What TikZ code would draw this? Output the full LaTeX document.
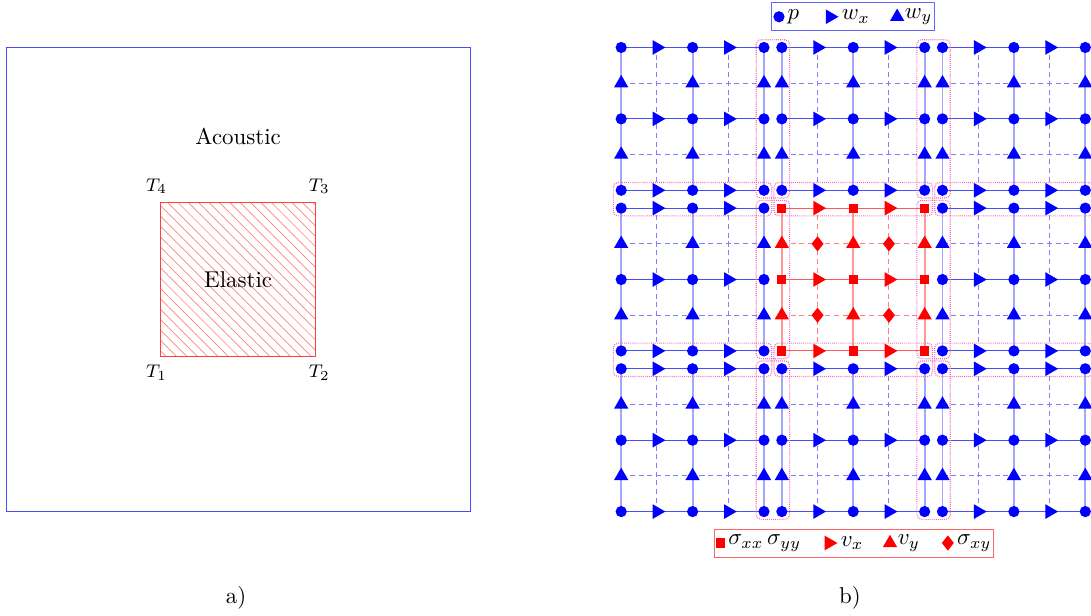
\documentclass[tikz,border=0pt]{standalone}
\usetikzlibrary{positioning,fit,backgrounds,shapes.geometric,patterns.meta}

\begin{document}
\begin{tikzpicture}[x=0.548cm,y=0.548cm,
  pn/.style={circle,fill=blue,inner sep=0pt,minimum size=4.9pt},
  wxn/.style={regular polygon,regular polygon sides=3,shape border rotate=-90,fill=blue,inner sep=0pt,minimum size=7.4pt},
  wyn/.style={regular polygon,regular polygon sides=3,fill=blue,inner sep=0pt,minimum size=7.2pt},
  sn/.style={rectangle,fill=red,inner sep=0pt,minimum size=4pt},
  vxn/.style={wxn,fill=red},
  vyn/.style={wyn,fill=red},
  sxyn/.style={diamond,fill=red,inner sep=0pt,minimum width=5.4pt,minimum height=6.8pt},
  kind/.code={\ifcase#1\tikzset{pn}\or\tikzset{wxn}\or\tikzset{wyn}\or\tikzset{inner sep=0pt}\or\tikzset{sn}\or\tikzset{vxn}\or\tikzset{vyn}\or\tikzset{sxyn}\fi},
  dsh/.style={dash pattern=on 2.2pt off 1.6pt},
  hl/.code={\ifcase#1\tikzset{draw=blue!70}\or\tikzset{draw=blue!50,dsh}\or\tikzset{draw=red!65}\or\tikzset{draw=red!50,dsh}\fi},
  vl/.code={\ifcase#1\tikzset{draw=blue!35,line width=0.8pt}\or\tikzset{draw=blue!50,dsh}\or\tikzset{draw=red!40,line width=0.8pt}\or\tikzset{draw=red!50,dsh}\fi},
  ibox/.style={draw=magenta!60,line width=0.5pt,dash pattern=on 0.4pt off 0.5pt,rounded corners=2pt,inner sep=3.4pt},
  leg/.style={draw,inner sep=0pt,minimum height=12.2pt},
  lt/.style={inner sep=0.6pt}]
\useasboundingbox (0,0) rectangle (30.56,17.23);
% a) acoustic domain with elastic inclusion
\node[draw=blue!70,inner sep=0pt,minimum size=7.124cm] (acou) at (6.67,9.4) {};
\node[draw=red!75,inner sep=0pt,minimum size=2.375cm,pattern={Lines[angle=-45,distance=3.2pt,line width=0.3pt]},pattern color=red!50] (elas) at (6.67,9.4) {Elastic};
\node (acl) at (6.67,13.42) {Acoustic};
\node[above,font=\footnotesize,xshift=-1.7pt] (t4) at (elas.north west) {$T_4$};
\node[above,font=\footnotesize,xshift=1.5pt] (t3) at (elas.north east) {$T_3$};
\node[below,font=\footnotesize,xshift=-1.7pt] (t1) at (elas.south west) {$T_1$};
\node[below,font=\footnotesize,xshift=1.5pt] (t2) at (elas.south east) {$T_2$};
\node (la) at (6.61,0.49) {a)};
% b) staggered grids, 3x3 blocks
\begin{scope}[shift={(17.4,2.9)}]
\foreach \bx in {0,1,2}
 \foreach \by in {0,1,2}{
  \pgfmathtruncatemacro\el{and(\bx==1,\by==1)}
  \foreach \i in {0,...,4}
   \foreach \j in {0,...,4}{
    \pgfmathtruncatemacro\k{mod(\i,2)+2*mod(\j,2)+4*\el}
    \node[kind=\k] (n-\bx\by-\i\j) at (4.5*\bx+\i,4.5*\by+\j) {};
   }
  \begin{scope}[on background layer]
   \foreach \m in {0,...,4}{
    \pgfmathtruncatemacro\k{mod(\m,2)+2*\el}
    \draw[hl=\k] (n-\bx\by-0\m.center) -- (n-\bx\by-4\m.center);
    \draw[vl=\k] (n-\bx\by-\m0.center) -- (n-\bx\by-\m4.center);
   }
  \end{scope}
 }
% interface boxes
\foreach \a/\b in {0/1,1/2}
 \foreach \c in {0,1,2}{
  \node[ibox,fit=(n-\a\c-40.center)(n-\b\c-04.center)] (iv-\a\c) {};
  \node[ibox,fit=(n-\c\a-04.center)(n-\c\b-40.center)] (ih-\c\a) {};
 }
\end{scope}
% legends
\node[leg,draw=blue!60,minimum width=2.5cm] (legA) at (23.89,16.76) {};
\node[pn] (lp) at (21.82,16.76) {};
\node[lt,right=0.3pt of lp] (lpt) {$p$};
\node[wxn] (lwx) at (23.25,16.76) {};
\node[lt,right=0.3pt of lwx] (lwxt) {$w_x$};
\node[wyn] (lwy) at (25.13,16.76) {};
\node[lt,right=0.3pt of lwy] (lwyt) {$w_y$};
\node[leg,draw=red!60,minimum width=4.283cm] (legE) at (23.91,2.02) {};
\node[sn] (ls) at (20.19,2.02) {};
\node[lt,right=0.3pt of ls] (lst) {$\sigma_{xx}\,\sigma_{yy}$};
\node[vxn] (lvx) at (23.22,2.02) {};
\node[lt,right=0.3pt of lvx] (lvxt) {$v_x$};
\node[vyn] (lvy) at (24.93,2.02) {};
\node[lt,right=0.3pt of lvy] (lvyt) {$v_y$};
\node[sxyn] (lsxy) at (26.55,2.02) {};
\node[lt,right=0.3pt of lsxy] (lsxyt) {$\sigma_{xy}$};
\node (lb) at (23.81,0.49) {b)};
\end{tikzpicture}
\end{document}
